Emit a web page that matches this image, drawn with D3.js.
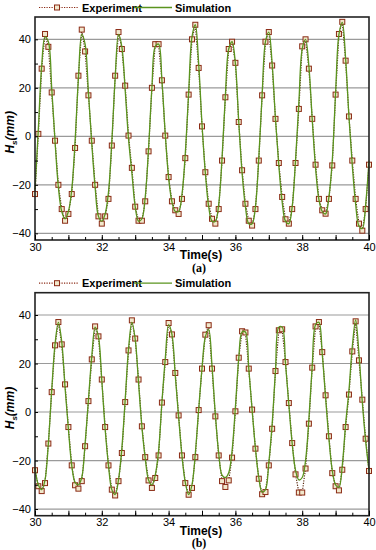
<!DOCTYPE html>
<html lang="en">
<head>
    <meta charset="UTF-8">
    <title>Wave height: experiment vs simulation</title>
    <style>
        body { margin: 0; background: #fff; }
        svg { display: block; }
        .tick text { font-family: Arial, "Liberation Sans", sans-serif; font-size: 11px; fill: #000; }
        .legend text { font-family: Arial, "Liberation Sans", sans-serif; font-size: 11px; font-weight: bold; }
    </style>
    <script src="https://d3js.org/d3.v7.min.js"></script>
</head>
<body>
    <svg id="chart" width="376" height="550"></svg>
    <script>
        // samples every 0.1 s from 30 s to 40 s
        const startTime = 30;
        const sampleStep = 0.1;
        const xTicks = [30, 32, 34, 36, 38, 40];
        const yTicks = [-40, -20, 0, 20, 40];
        const seriesNames = ["Experiment", "Simulation"];
        const panelLabels = ["(a)", "(b)"];

        // panel (a)
        const expA = [
            -23.8, 1, 27.9, 42.2, 36.9, 18.1, -1.8, -20, -30, -34.8,
            -32, -23.8, -4.8, 25, 44, 35, 16.9, -1.8, -20, -33,
            -36, -33, -25.8, -3.8, 25, 43, 36, 20.9, 0.3, -13,
            -29, -34.8, -34.8, -26.8, -6.2, 20, 38, 38, 23.1, 0.3,
            -16.8, -26.8, -30.5, -32, -25.8, -9, 17.2, 40, 46, 28.2,
            4.1, -14.8, -27.8, -34, -36, -30, -10, 16.1, 36, 39,
            30.3, 5.9, -14, -27.8, -34.8, -36.8, -30, -10, 16.9, 39,
            43, 29.2, 7.2, -11, -25, -34.2, -36, -30, -11, 11.3,
            37.1, 40, 27.9, 7.2, -11.7, -25.8, -30.5, -31.9, -25.8, -12,
            17.2, 42.2, 47.2, 31.2, 8.2, -10, -25.8, -36, -38.9, -30,
            -11.7
        ];
        const simA = [
            -22, 3, 29, 41, 39, 20, -2, -21, -31, -34,
            -31, -22, -2, 24, 42, 38, 18, -3, -21, -33,
            -35, -32, -23, -2, 24, 42, 37, 19, -1, -15,
            -29, -35, -34, -25, -5, 20, 37, 38, 23, 1,
            -17, -27, -31, -31, -24, -7, 18, 41, 46, 30,
            5, -15, -29, -35, -35, -28, -9, 17, 36, 39,
            30, 6, -15, -29, -36, -36, -29, -9, 17, 39,
            43, 30, 7, -12, -27, -35, -36, -29, -10, 14,
            36, 40, 29, 7, -13, -26, -31, -32, -25, -10,
            18, 42, 47, 32, 8, -12, -28, -37, -38, -28,
            -10
        ];

        // panel (b)
        const expB = [
            -24, -30.6, -32.6, -29.3, -13, 8.2, 27.5, 37.1, 27.9, 11.4,
            -6.2, -22, -30.2, -31.6, -28.5, -14.1, 4.5, 21.7, 35.3, 31.2,
            13.4, -6.2, -22, -32, -34.4, -28.5, -16.9, 4.1, 25.4, 37.8,
            30.3, 13.4, -5.9, -18.6, -28.2, -31.3, -27.2, -17.9, 3.9, 20.6,
            36.7, 32, 16.1, -1.4, -17.9, -29.3, -34.1, -31.3, -18.6, 0.8,
            17.9, 31.9, 35.8, 17.9, -1.8, -17.9, -28.5, -30.9, -28.2, -18.8,
            0.3, 22.4, 33.3, 32.8, 17.9, 1, -15.1, -27.5, -33.9, -33,
            -22, -6.9, 16.9, 33.7, 34.1, 20.6, 3.7, -12.8, -25.7, -33.2,
            -33.2, -23.3, -4.8, 18.3, 35.3, 37.1, 24.7, 6.9, -10, -25.2,
            -30.6, -32.3, -23.8, -6.2, 7.2, 25, 37.4, 21.3, 5.1, -11,
            -24.3
        ];
        const simB = [
            -23, -30, -32, -28, -13, 9, 28, 37, 29, 10,
            -7, -22, -29, -30, -27, -13, 5, 23, 35, 31,
            13, -7, -22, -32, -34, -28, -15, 5, 26, 37,
            30, 12, -6, -19, -28, -30, -26, -16, 4, 22,
            36, 32, 15, -2, -18, -29, -34, -30, -17, 1,
            18, 31, 34, 19, -1, -17, -26, -27, -25, -16,
            2, 22, 33, 33, 18, 1, -15, -27, -33, -32,
            -21, -5, 17, 35, 35, 20, 3, -13, -24, -28,
            -27, -20, -3, 19, 36, 37, 24, 6, -11, -24,
            -30, -31, -22, -5, 9, 27, 38, 24, 4, -12,
            -24
        ];

        const svg = d3.select("#chart");
        const left = 35, right = 369;
        const expColor = "#8a2a14", simColor = "#5a941e";
        const markFill = "#f1e8cc";

        const x = d3.scaleLinear().domain([30, 40]).range([left, right]);

        function drawPanel(top, exp, sim, label) {
            const bottom = top + 223;
            const y = d3.scaleLinear().domain([-42.75, 49.2]).range([bottom, top]);
            const g = svg.append("g");

            // horizontal grid lines
            g.append("g")
                .selectAll("line")
                .data(yTicks)
                .enter().append("line")
                .attr("x1", left).attr("x2", right)
                .attr("y1", d => y(d)).attr("y2", d => y(d))
                .attr("stroke", "#9a9a9a")
                .attr("stroke-width", 1.2);

            const t = d => startTime + d.i * sampleStep;
            const expPts = exp.map((v, i) => ({ i, v }));
            const simPts = sim.map((v, i) => ({ i, v }));

            // experiment: dotted line + squares
            g.append("path")
                .datum(expPts)
                .attr("fill", "none")
                .attr("stroke", "#5a2a10")
                .attr("stroke-width", 1.2)
                .attr("stroke-dasharray", "1.2,1.3")
                .attr("d", d3.line().x(d => x(t(d))).y(d => y(d.v)));

            g.append("g")
                .selectAll("rect")
                .data(expPts)
                .enter().append("rect")
                .attr("x", d => x(t(d)) - 2.5)
                .attr("y", d => y(d.v) - 2.5)
                .attr("width", 5).attr("height", 5)
                .attr("fill", markFill)
                .attr("stroke", expColor)
                .attr("stroke-width", 1);

            // simulation: smooth green line
            g.append("path")
                .datum(simPts)
                .attr("fill", "none")
                .attr("stroke", simColor)
                .attr("stroke-width", 1.3)
                .attr("d", d3.line().curve(d3.curveCatmullRom).x(d => x(t(d))).y(d => y(d.v)));

            // frame
            g.append("rect")
                .attr("x", left).attr("y", top)
                .attr("width", right - left).attr("height", bottom - top)
                .attr("fill", "none")
                .attr("stroke", "#222")
                .attr("stroke-width", 1.6);

            // inward ticks on the bottom axis
            g.append("g")
                .attr("transform", `translate(0,${bottom})`)
                .call(d3.axisTop(x).tickValues(d3.range(30, 40.01, 0.5)).tickSize(3).tickFormat(""))
                .call(a => a.select(".domain").remove());
            g.append("g")
                .attr("transform", `translate(0,${bottom})`)
                .call(d3.axisTop(x).tickValues(d3.range(30, 40.01, 1)).tickSize(5).tickFormat(""))
                .call(a => a.select(".domain").remove());
            g.append("g")
                .attr("transform", `translate(0,${bottom})`)
                .call(d3.axisBottom(x).tickValues(xTicks).tickSize(0).tickPadding(3).tickFormat(d3.format("d")))
                .call(a => a.select(".domain").remove());

            // left axis: inward ticks and labels
            g.append("g")
                .attr("transform", `translate(${left},0)`)
                .call(d3.axisRight(y).tickValues(d3.range(-40, 41, 10)).tickSize(3).tickFormat(""))
                .call(a => a.select(".domain").remove());
            g.append("g")
                .attr("transform", `translate(${left},0)`)
                .call(d3.axisLeft(y).tickValues(yTicks).tickSize(0).tickPadding(4))
                .call(a => a.select(".domain").remove());

            // y title
            const yt = g.append("text")
                .attr("transform", `translate(14,${(y(0) - 4)}) rotate(-90)`)
                .attr("text-anchor", "middle")
                .style("font-family", "Arial, 'Liberation Sans', sans-serif")
                .style("font-size", "12px")
                .style("font-weight", "bold")
                .style("font-style", "italic");
            yt.append("tspan").text("H");
            yt.append("tspan").attr("dy", 3).style("font-size", "8px").text("s");
            yt.append("tspan").attr("dy", -3).text("(mm)");

            // x title and panel label
            g.append("text")
                .attr("x", 201).attr("y", bottom + 19)
                .attr("text-anchor", "middle")
                .style("font-family", "Arial, 'Liberation Sans', sans-serif")
                .style("font-size", "12px")
                .style("font-weight", "bold")
                .text("Time(s)");
            g.append("text")
                .attr("x", 199).attr("y", bottom + 31.5)
                .attr("text-anchor", "middle")
                .style("font-family", "'Liberation Serif', 'Times New Roman', serif")
                .style("font-size", "12px")
                .style("font-weight", "bold")
                .text(label);

            // legend above the frame
            const ly = top - 9.5;
            const lg = g.append("g").attr("class", "legend");
            lg.append("line")
                .attr("x1", 39).attr("x2", 78).attr("y1", ly).attr("y2", ly)
                .attr("stroke", expColor).attr("stroke-width", 1.2)
                .attr("stroke-dasharray", "1.2,1.3");
            lg.append("rect")
                .attr("x", 57 - 2.5).attr("y", ly - 2.5)
                .attr("width", 5).attr("height", 5)
                .attr("fill", markFill).attr("stroke", expColor).attr("stroke-width", 1);
            lg.append("text").attr("x", 82).attr("y", ly + 4).text(seriesNames[0]);
            lg.append("line")
                .attr("x1", 134).attr("x2", 172).attr("y1", ly).attr("y2", ly)
                .attr("stroke", simColor).attr("stroke-width", 1.3);
            lg.append("text").attr("x", 175).attr("y", ly + 4).text(seriesNames[1]);
        }

        drawPanel(17, expA, simA, panelLabels[0]);
        drawPanel(292.7, expB, simB, panelLabels[1]);
    </script>
</body>
</html>
